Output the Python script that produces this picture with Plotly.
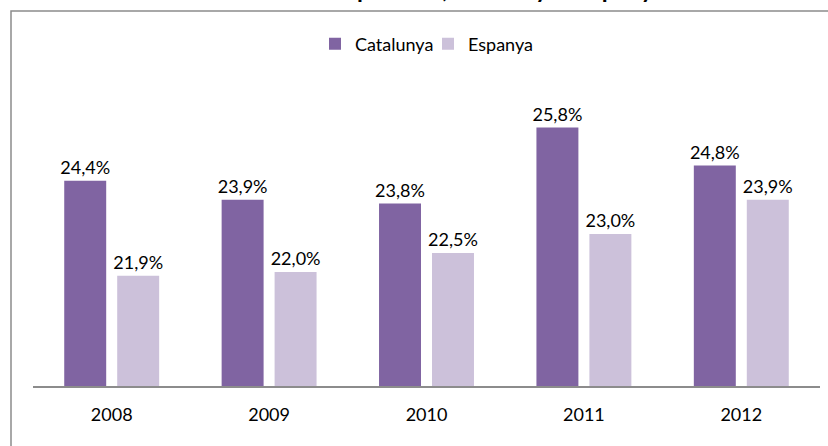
import plotly.graph_objects as go

years = ["2008", "2009", "2010", "2011", "2012"]
catalunya = [24.4, 23.9, 23.8, 25.8, 24.8]
espanya = [21.9, 22.0, 22.5, 23.0, 23.9]
title_text = "Taxa de risc de pobresa, Catalunya i Espanya"

def fmt(v):
    return f"{v:.1f}".replace(".", ",") + "%"

FONT = "Lato, Open Sans, sans-serif"
FS = 18

W, H = 828, 446
L, R, T, B = 33, 8, 82, 60
pw, ph = W - L - R, H - T - B

def px(x):
    return (x - L) / pw

def py(y):
    return (H - B - y) / ph

fig = go.Figure()
fig.add_trace(go.Bar(
    x=years, y=catalunya, name="Catalunya", legend="legend",
    marker=dict(color="#8064a2", line=dict(width=0)),
    text=[fmt(v) for v in catalunya], textposition="outside", constraintext="none",
    textfont=dict(size=FS, color="#000000", family=FONT), cliponaxis=False,
))
fig.add_trace(go.Bar(
    x=years, y=espanya, name="Espanya", legend="legend2",
    marker=dict(color="#ccc1da", line=dict(width=0)),
    text=[fmt(v) for v in espanya], textposition="outside", constraintext="none",
    textfont=dict(size=FS, color="#000000", family=FONT), cliponaxis=False,
))

fig.add_shape(type="rect", xref="paper", yref="paper",
              x0=px(11), x1=px(840), y0=py(470), y1=py(11),
              line=dict(color="#8c8c8c", width=1.5), layer="below")

fig.add_annotation(text=f"<b>{title_text}</b>", xref="paper", yref="paper",
                   x=px(430), y=py(4.5), xanchor="center", yanchor="bottom",
                   showarrow=False, font=dict(size=24, color="#000000", family=FONT))

leg_common = dict(orientation="h", yanchor="middle", y=py(44), xanchor="left",
                  font=dict(size=FS, color="#000000", family=FONT),
                  bgcolor="rgba(0,0,0,0)", itemwidth=30)

fig.update_layout(
    width=W, height=H,
    margin=dict(l=L, r=R, t=T, b=B, autoexpand=False),
    paper_bgcolor="white", plot_bgcolor="white",
    barmode="group", bargap=0.327, bargroupgap=0.2075,
    font=dict(family=FONT, size=FS, color="#000000"),
    showlegend=True,
    legend=dict(x=px(315), **leg_common),
    legend2=dict(x=px(428), **leg_common),
    xaxis=dict(showline=True, linecolor="#8c8c8c", linewidth=2, ticks="",
               tickfont=dict(size=FS, color="#000000"), ticklabelstandoff=11,
               showgrid=False, automargin=False),
    yaxis=dict(range=[19, 27], visible=False, showgrid=False, automargin=False),
)

fig.write_html("out.html", config={"displayModeBar": False},
               post_script="document.body.style.margin='0';document.body.style.overflow='hidden';")
